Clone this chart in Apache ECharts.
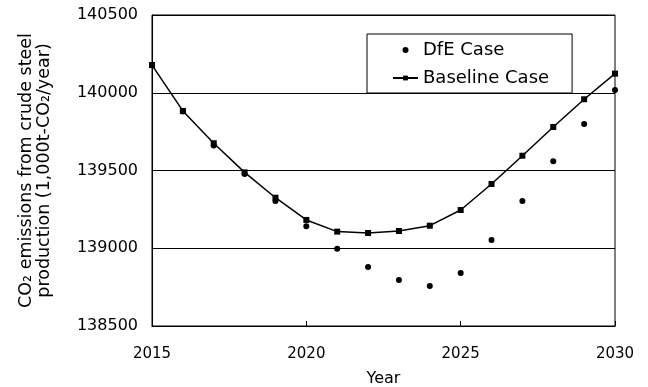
<!DOCTYPE html>
<html>
<head>
<meta charset="utf-8">
<script src="https://cdn.jsdelivr.net/npm/echarts@6/dist/echarts.min.js"></script>
<style>
  html, body { margin: 0; padding: 0; background: #fff; }
  #chart { width: 648px; height: 387px; }
</style>
</head>
<body>
<div id="chart"></div>
<script>
// Years on the horizontal axis
const years = [2015, 2016, 2017, 2018, 2019, 2020, 2021, 2022, 2023, 2024, 2025, 2026, 2027, 2028, 2029, 2030];

// CO2 emissions from crude steel production, 1,000 t-CO2 per year
const dfeCase = [140178, 139880, 139660, 139478, 139304, 139141, 138997, 138879, 138796, 138757, 138841, 139053, 139304, 139559, 139799, 140018];
const baselineCase = [140178, 139883, 139675, 139488, 139325, 139182, 139107, 139098, 139111, 139145, 139246, 139413, 139595, 139780, 139958, 140123];

const seriesNames = ['DfE Case', 'Baseline Case'];
const yTicks = { min: 138500, max: 140500, step: 500 };
const xTicks = { min: 2015, max: 2030, step: 5 };

const FONT = '"DejaVu Sans", "Liberation Sans", Arial, sans-serif';

const pairs = (vals) => years.map((y, i) => [y, vals[i]]);
const plain = (v) => String(v);

const chart = echarts.init(document.getElementById('chart'), null, { renderer: 'canvas' });
chart.setOption({
  animation: false,
  backgroundColor: '#ffffff',
  textStyle: { fontFamily: FONT, color: '#000' },
  grid: {
    left: 152, right: 33, top: 15, bottom: 61,
    outerBoundsMode: 'none',
    show: true, borderColor: '#000', borderWidth: 1, backgroundColor: 'transparent'
  },
  legend: {
    left: 367, top: 34,
    orient: 'vertical',
    padding: [7, 23, 6, 25],
    itemGap: 10,
    itemWidth: 25, itemHeight: 6,
    itemTextGap: 6,
    borderColor: '#000', borderWidth: 1,
    backgroundColor: '#fff',
    textStyle: { fontFamily: FONT, fontSize: 18, color: '#000' },
    data: [
      { name: seriesNames[0], icon: 'circle' },
      { name: seriesNames[1] }
    ]
  },
  xAxis: {
    type: 'value',
    min: xTicks.min, max: xTicks.max, interval: xTicks.step,
    name: 'Year', nameLocation: 'middle', nameGap: 45,
    nameTextStyle: { fontFamily: FONT, fontSize: 16, color: '#000' },
    axisLine: { show: true, lineStyle: { color: '#000', width: 1 } },
    axisTick: { show: true, inside: true, length: 5, lineStyle: { color: '#000' } },
    axisLabel: { fontFamily: FONT, fontSize: 15, color: '#000', margin: 21, formatter: plain },
    splitLine: { show: false }
  },
  yAxis: {
    type: 'value',
    min: yTicks.min, max: yTicks.max, interval: yTicks.step,
    name: 'CO\u2082 emissions from crude steel\nproduction (1,000t-CO\u2082/year)',
    nameLocation: 'middle', nameGap: 99, nameRotate: 90,
    nameTextStyle: { fontFamily: FONT, fontSize: 17.5, color: '#000', lineHeight: 18 },
    axisLine: { show: true, lineStyle: { color: '#000', width: 1 } },
    axisTick: { show: true, inside: true, length: 4, lineStyle: { color: '#000' } },
    axisLabel: { fontFamily: FONT, fontSize: 16, color: '#000', margin: 14, formatter: plain },
    splitLine: { show: true, lineStyle: { color: '#000', width: 1 } }
  },
  series: [
    {
      name: seriesNames[0],
      type: 'scatter',
      data: pairs(dfeCase),
      symbol: 'circle',
      symbolSize: 6,
      itemStyle: { color: '#000', opacity: 1 },
      z: 3
    },
    {
      name: seriesNames[1],
      type: 'line',
      data: pairs(baselineCase),
      symbol: 'rect',
      symbolSize: 6,
      showAllSymbol: true,
      lineStyle: { color: '#000', width: 1.5 },
      itemStyle: { color: '#000' },
      z: 4
    }
  ]
});
</script>
</body>
</html>
